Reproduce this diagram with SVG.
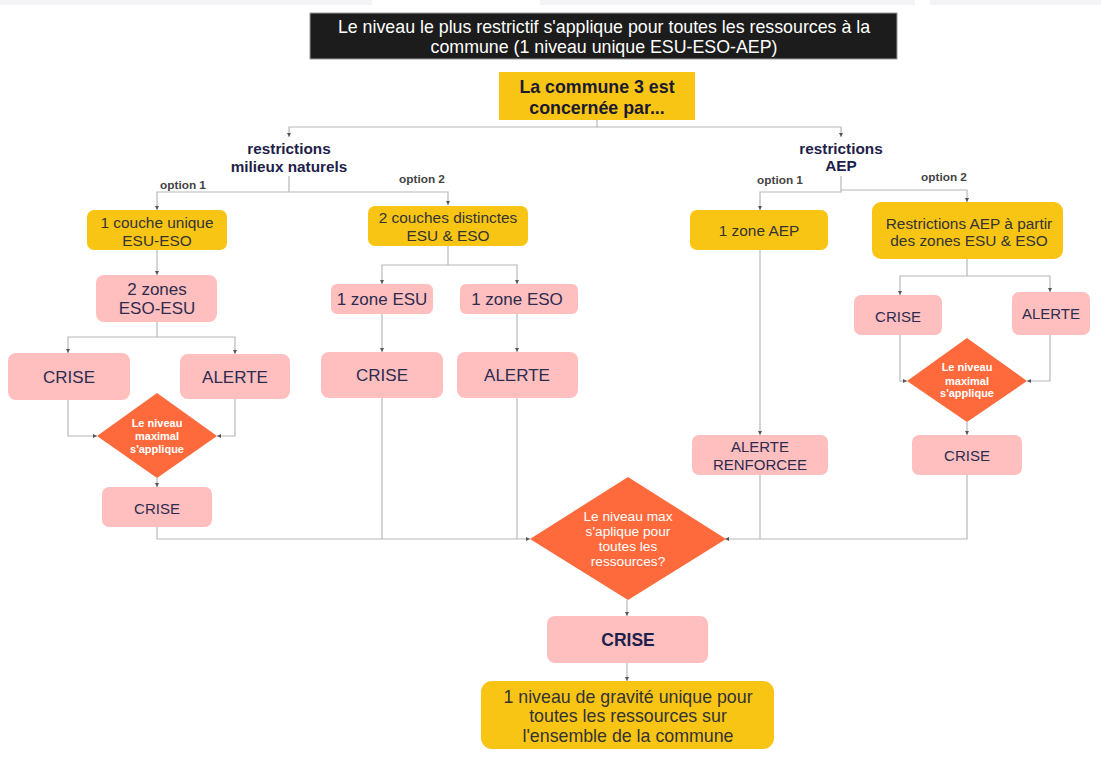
<svg xmlns="http://www.w3.org/2000/svg" width="1101" height="757" viewBox="0 0 1101 757">
<defs>
<style>
text{font-family:"Liberation Sans",Arial,sans-serif;text-anchor:middle;dominant-baseline:central}
.gold{fill:#f8c515}
.pink{fill:#ffbfbf}
.dia{fill:#ff6a3d}
.tg{fill:#333333;font-size:15.4px}
.tp{fill:#2d2b4e;font-size:17px}
.tps{fill:#2d2b4e;font-size:15px}
.td{fill:#ffffff;font-size:11px;font-weight:bold}
.hd{fill:#1e1e4a;font-size:15.3px;font-weight:bold}
.opt{fill:#444444;font-size:11.8px;font-weight:bold}
.ln{fill:none;stroke:#b8b8b8;stroke-width:1.2}
</style>
<marker id="ah" markerWidth="5" markerHeight="5" refX="4" refY="2.5" orient="auto" markerUnits="userSpaceOnUse">
<path d="M0,0.5 L4,2.5 L0,4.5 z" fill="#555555"/>
</marker>
</defs>
<rect width="1101" height="757" fill="#ffffff"/>
<rect x="0" y="0" width="372" height="5" fill="#f4f4f6"/>
<rect x="540" y="0" width="375" height="5" fill="#f4f4f6"/>
<rect x="930" y="0" width="171" height="5" fill="#f4f4f6"/>

<g id="connectors">
<path class="ln" d="M597,120 V127 H289 V137" marker-end="url(#ah)"/>
<path class="ln" d="M597,127 H841 V137" marker-end="url(#ah)"/>
<path class="ln" d="M289,176 V192 H157 V210" marker-end="url(#ah)"/>
<path class="ln" d="M289,192 H448 V205" marker-end="url(#ah)"/>
<path class="ln" d="M157,250 V275" marker-end="url(#ah)"/>
<path class="ln" d="M157,322 V337 H68 V353" marker-end="url(#ah)"/>
<path class="ln" d="M157,337 H235 V354" marker-end="url(#ah)"/>
<path class="ln" d="M68,400 V436 H97" marker-end="url(#ah)"/>
<path class="ln" d="M235,399 V436 H217" marker-end="url(#ah)"/>
<path class="ln" d="M157,478 V487" marker-end="url(#ah)"/>
<path class="ln" d="M448,246 V265 H382 V284" marker-end="url(#ah)"/>
<path class="ln" d="M448,265 H517 V284" marker-end="url(#ah)"/>
<path class="ln" d="M382,314 V352" marker-end="url(#ah)"/>
<path class="ln" d="M517,314 V352" marker-end="url(#ah)"/>
<path class="ln" d="M157,527 V539 H530" marker-end="url(#ah)"/>
<path class="ln" d="M382,398 V539"/>
<path class="ln" d="M517,398 V539"/>
<path class="ln" d="M841,176 V190 H967 V202" marker-end="url(#ah)"/>
<path class="ln" d="M841,190 V192 H760 V210" marker-end="url(#ah)"/>
<path class="ln" d="M760,250 V435" marker-end="url(#ah)"/>
<path class="ln" d="M967,259 V276 H900 V295" marker-end="url(#ah)"/>
<path class="ln" d="M967,276 H1050 V292" marker-end="url(#ah)"/>
<path class="ln" d="M900,335 V381 H907" marker-end="url(#ah)"/>
<path class="ln" d="M1050,335 V381 H1027" marker-end="url(#ah)"/>
<path class="ln" d="M967,422 V435" marker-end="url(#ah)"/>
<path class="ln" d="M967,475 V539 H725" marker-end="url(#ah)"/>
<path class="ln" d="M760,475 V539"/>
<path class="ln" d="M627,600 V616" marker-end="url(#ah)"/>
<path class="ln" d="M627,663 V681" marker-end="url(#ah)"/>
</g>

<g id="title">
<rect x="310" y="13" width="587" height="46" fill="#1c1c1c" stroke="#9a9a9a" stroke-width="1"/>
<text x="604" y="27" fill="#ffffff" font-size="17.8">Le niveau le plus restrictif s'applique pour toutes les ressources à la</text>
<text x="604" y="47" fill="#ffffff" font-size="17.8">commune (1 niveau unique ESU-ESO-AEP)</text>
</g>

<g id="commune">
<rect class="gold" x="499" y="72" width="196" height="48"/>
<text x="597" y="87" fill="#1a1a2e" font-size="17.8" font-weight="bold">La commune 3 est</text>
<text x="597" y="108" fill="#1a1a2e" font-size="17.8" font-weight="bold">concernée par...</text>
</g>

<g id="restr-mn">
<text class="hd" x="289" y="148">restrictions</text>
<text class="hd" x="289" y="166">milieux naturels</text>
</g>
<g id="restr-aep">
<text class="hd" x="841" y="148">restrictions</text>
<text class="hd" x="841" y="165">AEP</text>
</g>
<g id="labels">
<text class="opt" x="183" y="185">option 1</text>
<text class="opt" x="422" y="179">option 2</text>
<text class="opt" x="780" y="180">option 1</text>
<text class="opt" x="944" y="177">option 2</text>
</g>

<g id="couche-unique">
<rect class="gold" x="87" y="210" width="140" height="40" rx="7"/>
<text class="tg" x="157" y="222">1 couche unique</text>
<text class="tg" x="157" y="240">ESU-ESO</text>
</g>
<g id="couches-distinctes">
<rect class="gold" x="368" y="206" width="160" height="40" rx="7"/>
<text class="tg" x="448" y="217">2 couches distinctes</text>
<text class="tg" x="448" y="235">ESU &amp; ESO</text>
</g>
<g id="zones-eso-esu">
<rect class="pink" x="96" y="275" width="121" height="47" rx="8"/>
<text class="tp" x="157" y="289">2 zones</text>
<text class="tp" x="157" y="308">ESO-ESU</text>
</g>
<g id="crise-l1">
<rect class="pink" x="8" y="353" width="122" height="47" rx="8"/>
<text class="tp" x="69" y="377">CRISE</text>
</g>
<g id="alerte-l1">
<rect class="pink" x="180" y="354" width="110" height="45" rx="8"/>
<text class="tp" x="235" y="377">ALERTE</text>
</g>
<g id="diamond-l">
<polygon class="dia" points="157,393 217,436 157,478 97,436"/>
<text class="td" x="157" y="423">Le niveau</text>
<text class="td" x="157" y="436">maximal</text>
<text class="td" x="157" y="449">s'applique</text>
</g>
<g id="crise-l2">
<rect class="pink" x="102" y="487" width="110" height="40" rx="7"/>
<text class="tps" x="157" y="508">CRISE</text>
</g>
<g id="zone-esu">
<rect class="pink" x="331" y="284" width="102" height="30" rx="6"/>
<text class="tp" x="382" y="299">1 zone ESU</text>
</g>
<g id="zone-eso">
<rect class="pink" x="460" y="284" width="118" height="30" rx="6"/>
<text class="tp" x="517" y="299">1 zone ESO</text>
</g>
<g id="crise-m">
<rect class="pink" x="321" y="352" width="122" height="46" rx="8"/>
<text class="tp" x="382" y="375">CRISE</text>
</g>
<g id="alerte-m">
<rect class="pink" x="457" y="352" width="121" height="46" rx="8"/>
<text class="tp" x="517" y="375">ALERTE</text>
</g>
<g id="zone-aep">
<rect class="gold" x="690" y="210" width="138" height="40" rx="7"/>
<text class="tg" x="759" y="230">1 zone AEP</text>
</g>
<g id="restr-aep-zones">
<rect class="gold" x="872" y="202" width="191" height="57" rx="9"/>
<text class="tg" x="969" y="223" font-size="16">Restrictions AEP à partir</text>
<text class="tg" x="969" y="240" font-size="16">des zones ESU &amp; ESO</text>
</g>
<g id="alerte-renforcee">
<rect class="pink" x="692" y="435" width="136" height="40" rx="7"/>
<text class="tps" x="760" y="446">ALERTE</text>
<text class="tps" x="760" y="464">RENFORCEE</text>
</g>
<g id="crise-r1">
<rect class="pink" x="854" y="295" width="88" height="40" rx="7"/>
<text class="tps" x="898" y="316">CRISE</text>
</g>
<g id="alerte-r1">
<rect class="pink" x="1012" y="292" width="78" height="43" rx="7"/>
<text class="tps" x="1051" y="313">ALERTE</text>
</g>
<g id="diamond-r">
<polygon class="dia" points="967,338 1027,381 967,422 907,381"/>
<text class="td" x="967" y="367">Le niveau</text>
<text class="td" x="967" y="381">maximal</text>
<text class="td" x="967" y="393">s'applique</text>
</g>
<g id="crise-r2">
<rect class="pink" x="912" y="435" width="110" height="40" rx="7"/>
<text class="tps" x="967" y="455">CRISE</text>
</g>
<g id="diamond-main">
<polygon class="dia" points="628,477 726,539 628,600 530,539"/>
<text x="628" y="516" fill="#ffffff" font-size="13.7">Le niveau max</text>
<text x="628" y="531" fill="#ffffff" font-size="13.7">s'aplique pour</text>
<text x="628" y="546" fill="#ffffff" font-size="13.7">toutes les</text>
<text x="628" y="561" fill="#ffffff" font-size="13.7">ressources?</text>
</g>
<g id="crise-final">
<rect class="pink" x="547" y="616" width="161" height="47" rx="8"/>
<text x="628" y="640" fill="#1e1e4a" font-size="17.5" font-weight="bold">CRISE</text>
</g>
<g id="niveau-unique">
<rect class="gold" x="481" y="681" width="293" height="68" rx="11"/>
<text x="628" y="697" fill="#333333" font-size="17.8">1 niveau de gravité unique pour</text>
<text x="628" y="716" fill="#333333" font-size="17.8">toutes les ressources sur</text>
<text x="628" y="736" fill="#333333" font-size="17.8">l'ensemble de la commune</text>
</g>
</svg>
